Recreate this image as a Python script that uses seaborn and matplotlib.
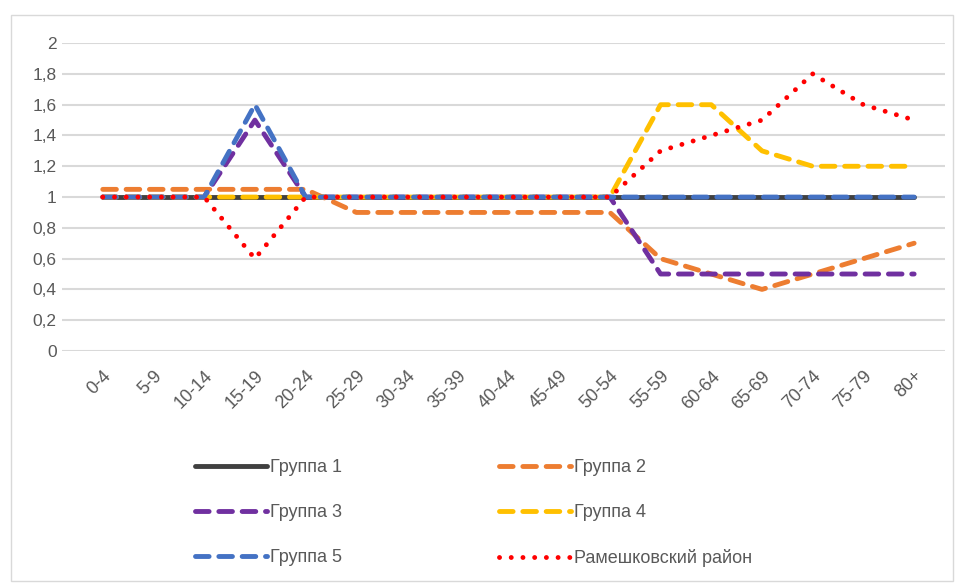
import numpy as np
import pandas as pd
import seaborn as sns
import matplotlib.pyplot as plt
from matplotlib.lines import Line2D
from matplotlib.patches import Rectangle

ages = ['0-4', '5-9', '10-14', '15-19', '20-24', '25-29', '30-34', '35-39', '40-44',
        '45-49', '50-54', '55-59', '60-64', '65-69', '70-74', '75-79', '80+']
group1 = [1, 1, 1, 1, 1, 1, 1, 1, 1, 1, 1, 1, 1, 1, 1, 1, 1]
group2 = [1.05, 1.05, 1.05, 1.05, 1.05, 0.9, 0.9, 0.9, 0.9, 0.9, 0.9, 0.6, 0.5, 0.4, 0.5, 0.6, 0.7]
group3 = [1, 1, 1, 1.5, 1, 1, 1, 1, 1, 1, 1, 0.5, 0.5, 0.5, 0.5, 0.5, 0.5]
group4 = [1, 1, 1, 1, 1, 1, 1, 1, 1, 1, 1, 1.6, 1.6, 1.3, 1.2, 1.2, 1.2]
group5 = [1, 1, 1, 1.6, 1, 1, 1, 1, 1, 1, 1, 1, 1, 1, 1, 1, 1]
district = [1, 1, 1, 0.6, 1, 1, 1, 1, 1, 1, 1, 1.3, 1.4, 1.5, 1.8, 1.6, 1.5]

names = ['Группа 1', 'Группа 2', 'Группа 3', 'Группа 4', 'Группа 5', 'Рамешковский район']
colors = ['#404040', '#ED7D31', '#7030A0', '#FFC000', '#4472C4', '#FF0000']
dash = (2.8, 2.0)
dot = (0.01, 2.4)
styles = [None, dash, dash, dash, dash, dot]

sns.set_style('white')
plt.rcParams['font.family'] = ['Liberation Sans', 'DejaVu Sans']

fig = plt.figure(figsize=(9.57, 5.83), dpi=100)
ax = fig.add_axes([0.065, 0.398, 0.922, 0.528])
fig.patches.append(Rectangle((0.011, 0.003), 0.985, 0.972, transform=fig.transFigure,
                             fill=False, edgecolor='#d9d9d9', lw=1))

lw = 3.5
handles = []
for name, vals, c, st in zip(names, [group1, group2, group3, group4, group5, district], colors, styles):
    df = pd.DataFrame({'age': ages, 'val': vals})
    sns.lineplot(data=df, x='age', y='val', ax=ax, color=c, lw=lw, sort=False, legend=False)
    line = ax.lines[-1]
    line.set_solid_capstyle('round')
    line.set_dash_capstyle('round')
    if st is not None:
        line.set_dashes(st)
    h = Line2D([0], [0], color=c, lw=lw, solid_capstyle='round', dash_capstyle='round')
    if st is not None:
        h.set_dashes(st)
    handles.append(h)

ax.set_ylim(0, 2)
ax.set_xlim(-0.8, 16.6)
ax.set_yticks(np.arange(0, 2.01, 0.2))
ax.set_yticklabels([('%g' % v).replace('.', ',') for v in np.arange(0, 2.01, 0.2).round(1)])
ax.grid(axis='y', color='#d9d9d9', lw=1.5)
ax.grid(axis='x', visible=False)
for s in ax.spines.values():
    s.set_visible(False)
ax.set_xlabel('')
ax.set_ylabel('')
ax.tick_params(axis='y', length=0, labelsize=12.5, colors='#595959', pad=4)
ax.tick_params(axis='x', length=0, labelsize=13, colors='#595959', pad=12)
for t in ax.get_xticklabels():
    t.set_rotation(45)
    t.set_ha('right')
    t.set_rotation_mode('anchor')

order = [0, 2, 4, 1, 3, 5]
fig.legend([handles[i] for i in order], [names[i] for i in order], ncol=2,
           loc='upper left', bbox_to_anchor=(0.187, 0.24), frameon=False,
           fontsize=13, labelcolor='#595959', handlelength=4.0, handletextpad=0.15,
           columnspacing=8.7, labelspacing=1.55)

fig.savefig('out.png', dpi=100)
